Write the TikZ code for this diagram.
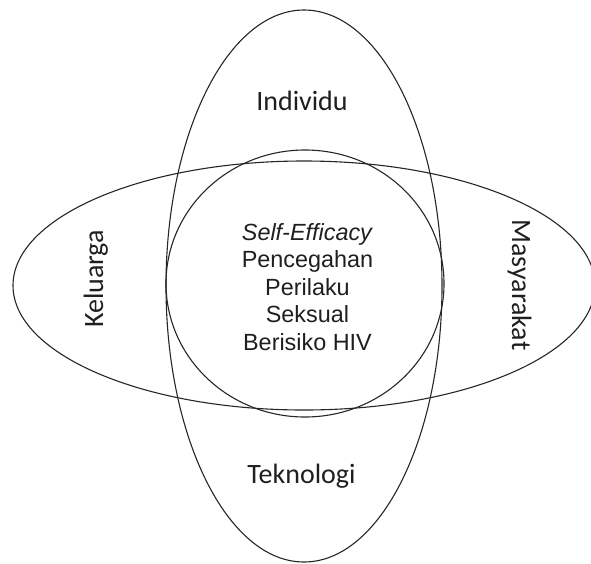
\documentclass[tikz,border=0pt]{standalone}
\usepackage{fontspec}
\setmainfont{Liberation Sans}
\newfontfamily\labelfont{Carlito}
\usetikzlibrary{shapes.geometric}

\tikzstyle{oval}=[
    draw=black!85,
    ellipse,
    line width=1.1pt,
    inner sep=0pt,
  ]
\tikzstyle{sidelabel}=[
    font=\labelfont\fontsize{28}{32}\selectfont,
    text=black!88,
    anchor=base,
    inner sep=0pt,
  ]
\tikzstyle{coretext}=[
    font=\fontsize{23.4}{27.5}\selectfont,
    text=black!88,
    anchor=base,
    inner sep=0pt,
  ]

\begin{document}
\begin{tikzpicture}[x=1pt, y=-1pt]
      \useasboundingbox (0,0) rectangle (591,563);
      \clip (0,0) rectangle (591,563);
      \node[oval, minimum width=276pt, minimum height=552pt] (vert) at (304, 286) {};
      \node[oval, minimum width=582pt, minimum height=249pt] (horiz) at (304, 285.5) {};
      \node[oval, minimum width=278pt, minimum height=267pt] (core) at (305, 283.5) {};
      % outer labels
      \node[sidelabel] (individu) at (302, 110) {Individu};
      \node[sidelabel] (teknologi) at (301.5, 483) {Teknologi};
      \node[sidelabel, rotate=90] (keluarga) at (103, 279) {Keluarga};
      \node[sidelabel, rotate=-90] (masyarakat) at (512, 285) {Masyarakat};
      % centre text
      \foreach \txt [count=\i] in {\textit{Self-Efficacy}, Pencegahan, Perilaku, Seksual, Berisiko HIV} {%
        \node[coretext] (line\i) at (307.5, 212.5+27.5*\i) {\txt};
      }
    \end{tikzpicture}
\end{document}
